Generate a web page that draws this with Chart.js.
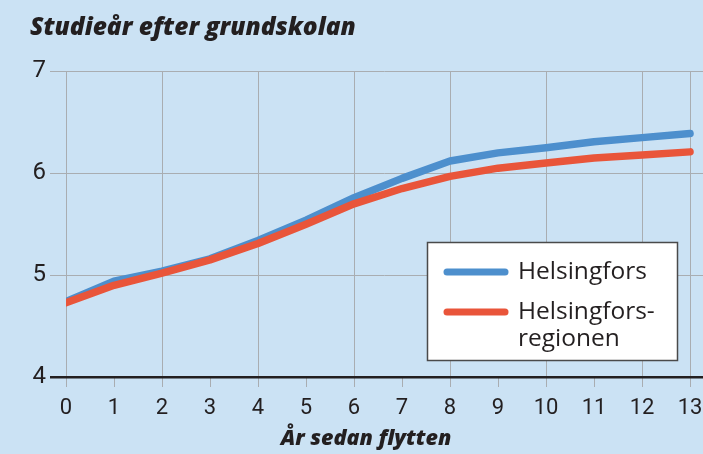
<!DOCTYPE html>
<html>
<head>
<meta charset="utf-8">
<script src="https://cdn.jsdelivr.net/npm/chart.js@4/dist/chart.umd.min.js"></script>
<style>
  body { margin: 0; background: #cbe2f4; }
  #wrap { width: 703px; height: 454px; }
</style>
</head>
<body>
<div id="wrap"><canvas id="myChart"></canvas></div>
<script>
// years since moving, and mean years of study after basic school
var years = [0, 1, 2, 3, 4, 5, 6, 7, 8, 9, 10, 11, 12, 13];
var helsinkiArr = [4.74, 4.94, 5.04, 5.16, 5.34, 5.54, 5.76, 5.95, 6.12, 6.20, 6.25, 6.31, 6.35, 6.39];
var regionArr = [4.73, 4.90, 5.02, 5.15, 5.31, 5.50, 5.70, 5.85, 5.97, 6.05, 6.10, 6.15, 6.18, 6.21];
var yTicks = [4, 5, 6, 7];
var seriesNames = [['Helsingfors'], ['Helsingfors-', 'regionen']];
var xTitle = 'År sedan flytten';

var blue = '#4d8fcd';
var red = '#e9553a';
var grey = '#a9adb1';
var ink = '#231f20';

function toPoints(arr) {
    return arr.map(function (v, i) { return { x: years[i], y: v }; });
}

// fills the whole canvas with the light blue panel colour
var panelBg = {
    id: 'panelBg',
    beforeDraw: function (chart) {
        var ctx = chart.ctx;
        ctx.save();
        ctx.fillStyle = '#cbe2f4';
        ctx.fillRect(0, 0, chart.width, chart.height);
        ctx.restore();
    }
};

// x axis caption, set a bit left of the plot centre
var axisCaption = {
    id: 'axisCaption',
    afterDraw: function (chart) {
        var ctx = chart.ctx;
        ctx.save();
        ctx.font = 'italic 800 21.5px "Open Sans"';
        ctx.fillStyle = ink;
        ctx.textAlign = 'center';
        ctx.textBaseline = 'middle';
        ctx.fillText(xTitle, 366, 439);
        ctx.restore();
    }
};

// white boxed legend with multi-line labels
var boxLegend = {
    id: 'boxLegend',
    afterDraw: function (chart) {
        var ctx = chart.ctx;
        var box = { x: 427.5, y: 242.5, w: 250, h: 118 };
        ctx.save();
        ctx.fillStyle = '#ffffff';
        ctx.fillRect(box.x, box.y, box.w, box.h);
        ctx.strokeStyle = '#4a4a4a';
        ctx.lineWidth = 1.5;
        ctx.strokeRect(box.x, box.y, box.w, box.h);

        var rows = [272, 312];
        ctx.font = '500 24.5px "Open Sans"';
        ctx.textBaseline = 'middle';
        ctx.fillStyle = ink;
        chart.data.datasets.forEach(function (ds, i) {
            var y = rows[i];
            ctx.strokeStyle = ds.borderColor;
            ctx.lineWidth = 7;
            ctx.lineCap = 'round';
            ctx.beginPath();
            ctx.moveTo(447, y);
            ctx.lineTo(505, y);
            ctx.stroke();
            seriesNames[i].forEach(function (line, j) {
                ctx.fillText(line, 518, y + j * 27);
            });
        });
        ctx.restore();
    }
};

var ctx = document.getElementById('myChart').getContext('2d');
var chart = new Chart(ctx, {
    type: 'line',
    data: {
        datasets: [{
            label: seriesNames[0].join(''),
            data: toPoints(helsinkiArr),
            borderColor: blue,
            backgroundColor: blue,
            borderWidth: 7.5,
            order: 1
        },
        {
            label: seriesNames[1].join(''),
            data: toPoints(regionArr),
            borderColor: red,
            backgroundColor: red,
            borderWidth: 7.5,
            order: 0
        }]
    },
    options: {
        responsive: true,
        maintainAspectRatio: false,
        animation: false,
        layout: { padding: { left: 30, right: 0, top: 0, bottom: 0 } },
        elements: {
            point: { radius: 0, hoverRadius: 0 },
            line: { tension: 0, borderCapStyle: 'round', borderJoinStyle: 'round' }
        },
        plugins: {
            legend: { display: false },
            tooltip: { enabled: false },
            title: {
                display: true,
                text: 'Studieår efter grundskolan',
                align: 'start',
                color: ink,
                font: { family: 'Open Sans', size: 24.5, weight: 800, style: 'italic' },
                padding: { top: 13, bottom: 29 }
            }
        },
        scales: {
            x: {
                type: 'linear',
                min: 0,
                max: 13.27,
                afterBuildTicks: function (scale) {
                    scale.ticks = years.map(function (v) { return { value: v }; });
                },
                afterFit: function (scale) {
                    scale.height = 77;
                    scale.paddingLeft = 0;
                    scale.paddingRight = 0;
                },
                border: { display: false },
                grid: {
                    color: function (c) {
                        var v = c.tick && c.tick.value;
                        return (v % 2 === 0 || v === 13) ? grey : 'rgba(0,0,0,0)';
                    },
                    tickColor: grey,
                    tickLength: 10,
                    lineWidth: 1
                },
                ticks: {
                    autoSkip: false,
                    maxRotation: 0,
                    padding: 8,
                    color: ink,
                    font: { family: 'Roboto', size: 22 }
                }
            },
            y: {
                min: yTicks[0],
                max: yTicks[yTicks.length - 1],
                afterBuildTicks: function (scale) {
                    scale.ticks = yTicks.map(function (v) { return { value: v }; });
                },
                afterFit: function (scale) { scale.width = 36; },
                border: { display: false },
                grid: {
                    color: function (c) {
                        return c.tick && c.tick.value === 4 ? ink : grey;
                    },
                    lineWidth: function (c) {
                        return c.tick && c.tick.value === 4 ? 2.5 : 1;
                    },
                    tickLength: 16
                },
                ticks: {
                    padding: 4,
                    color: ink,
                    font: { family: 'Roboto', size: 24 }
                }
            }
        }
    },
    plugins: [panelBg, axisCaption, boxLegend]
});
</script>
</body>
</html>
